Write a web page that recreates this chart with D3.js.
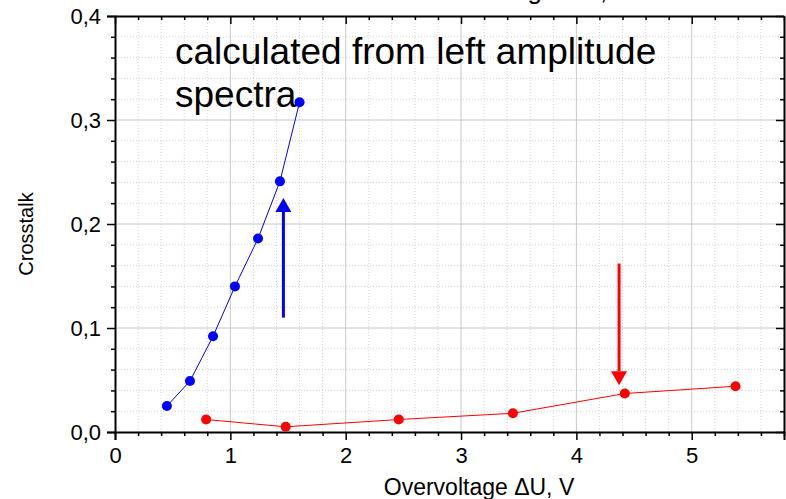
<!DOCTYPE html>
<html lang="en">
<head>
  <meta charset="UTF-8">
  <title>Crosstalk vs overvoltage</title>
  <script src="https://d3js.org/d3.v7.min.js"></script>
  <style>
    body {
      margin: 0;
      background: white;
      font-family: "Liberation Sans", Arial, sans-serif;
    }
  </style>
</head>
<body>
  <div id="chart"></div>

  <script>
    // data
    const blueX = [0.45, 0.65, 0.85, 1.04, 1.24, 1.43, 1.60];
    const blueY = [0.025, 0.049, 0.092, 0.140, 0.186, 0.241, 0.317];
    const redX = [0.79, 1.48, 2.46, 3.45, 4.42, 5.38];
    const redY = [0.012, 0.005, 0.012, 0.018, 0.037, 0.044];

    const xTicks = [0, 1, 2, 3, 4, 5];
    const yTicks = [0, 0.1, 0.2, 0.3, 0.4];

    // arrows: [x, from y, to y]
    const blueArrow = [1.46, 0.110, 0.225];
    const redArrow = [4.37, 0.162, 0.045];

    const width = 786, height = 499;
    const margin = {top: 16, right: 2, bottom: 67, left: 115};

    const svg = d3.select("#chart").append("svg")
        .attr("width", width)
        .attr("height", height);

    const x = d3.scaleLinear()
        .domain([0, 5.8])
        .range([margin.left, width - margin.right]);

    const y = d3.scaleLinear()
        .domain([0, 0.4])
        .range([height - margin.bottom, margin.top]);

    const fmt = d => d3.format(".1f")(d).replace(".", ",");

    const minorX = d3.range(0, 5.81, 0.2).filter(v => Math.abs(v - Math.round(v)) > 1e-6);
    const minorY = d3.range(0, 0.401, 0.02).filter(v => Math.abs(v * 10 - Math.round(v * 10)) > 1e-6);

    // minor grid
    const grid = svg.append("g");
    grid.selectAll(".mgx").data(minorX).join("line")
        .attr("x1", d => x(d)).attr("x2", d => x(d))
        .attr("y1", y(0)).attr("y2", y(0.4))
        .attr("stroke", "#d4d4d4").attr("stroke-dasharray", "1,2");
    grid.selectAll(".mgy").data(minorY).join("line")
        .attr("x1", x(0)).attr("x2", x(5.8))
        .attr("y1", d => y(d)).attr("y2", d => y(d))
        .attr("stroke", "#d4d4d4").attr("stroke-dasharray", "1,2");

    // major grid
    grid.selectAll(".gx").data(xTicks.slice(1)).join("line")
        .attr("x1", d => x(d)).attr("x2", d => x(d))
        .attr("y1", y(0)).attr("y2", y(0.4))
        .attr("stroke", "#c8c8c8");
    grid.selectAll(".gy").data(yTicks.slice(1, -1)).join("line")
        .attr("x1", x(0)).attr("x2", x(5.8))
        .attr("y1", d => y(d)).attr("y2", d => y(d))
        .attr("stroke", "#c8c8c8");

    // axes
    const axisFont = g => g.selectAll("text")
        .attr("font-family", "Liberation Sans, Arial, sans-serif")
        .attr("font-size", 22).attr("fill", "#000");

    svg.append("g")
        .attr("transform", `translate(0,${y(0)})`)
        .call(d3.axisBottom(x).tickValues(xTicks).tickFormat(d3.format("d"))
          .tickSize(8).tickPadding(7))
        .call(axisFont);
    svg.append("g")
        .attr("transform", `translate(0,${y(0)})`)
        .call(d3.axisBottom(x).tickValues(minorX).tickFormat("").tickSize(4))
        .call(g => g.select(".domain").remove());

    svg.append("g")
        .attr("transform", `translate(${x(0)},0)`)
        .call(d3.axisLeft(y).tickValues(yTicks).tickFormat(fmt)
          .tickSize(8).tickPadding(6))
        .call(axisFont);
    svg.append("g")
        .attr("transform", `translate(${x(0)},0)`)
        .call(d3.axisLeft(y).tickValues(minorY).tickFormat("").tickSize(4))
        .call(g => g.select(".domain").remove());

    // mirrored top and right axes, ticks inward
    svg.append("g")
        .attr("transform", `translate(0,${y(0.4)})`)
        .call(d3.axisBottom(x).tickValues(xTicks).tickFormat("").tickSize(8).tickSizeOuter(0));
    svg.append("g")
        .attr("transform", `translate(0,${y(0.4)})`)
        .call(d3.axisBottom(x).tickValues(minorX).tickFormat("").tickSize(4))
        .call(g => g.select(".domain").remove());
    svg.append("g")
        .attr("transform", `translate(${x(5.8)},0)`)
        .call(d3.axisLeft(y).tickValues(yTicks).tickFormat("").tickSize(8).tickSizeOuter(0));
    svg.append("g")
        .attr("transform", `translate(${x(5.8)},0)`)
        .call(d3.axisLeft(y).tickValues(minorY).tickFormat("").tickSize(4))
        .call(g => g.select(".domain").remove());

    svg.selectAll(".domain").attr("stroke-width", 2);
    svg.selectAll(".tick line").attr("stroke-width", 1.5);

    // series
    const series = [
      {xs: blueX, ys: blueY, color: "#0000ff"},
      {xs: redX, ys: redY, color: "#ff0000"}
    ];
    const line = d3.line().x(d => x(d[0])).y(d => y(d[1]));

    series.forEach(s => {
      const pts = s.xs.map((v, i) => [v, s.ys[i]]);
      svg.append("path")
          .datum(pts)
          .attr("d", line)
          .attr("fill", "none")
          .attr("stroke", s.color)
          .attr("stroke-width", 1);
      svg.append("g").selectAll("circle")
          .data(pts)
          .join("circle")
          .attr("cx", d => x(d[0]))
          .attr("cy", d => y(d[1]))
          .attr("r", 5)
          .attr("fill", s.color);
    });

    // arrows
    function arrow(a, color) {
      const [ax, y0, y1] = a;
      const dir = y1 > y0 ? 1 : -1;
      const tipY = y(y1);
      const baseY = tipY + dir * 14;
      svg.append("line")
          .attr("x1", x(ax)).attr("x2", x(ax))
          .attr("y1", y(y0)).attr("y2", baseY)
          .attr("stroke", color).attr("stroke-width", 3);
      svg.append("path")
          .attr("d", `M${x(ax)},${tipY}L${x(ax) - 8},${baseY}L${x(ax) + 8},${baseY}Z`)
          .attr("fill", color);
    }
    arrow(blueArrow, "#0000ff");
    arrow(redArrow, "#ff0000");

    // annotation
    const note = svg.append("text")
        .attr("x", 175)
        .attr("y", 64)
        .attr("font-size", 37)
        .attr("fill", "#000");
    note.append("tspan").attr("x", 175).attr("dy", 0).text("calculated from left amplitude");
    note.append("tspan").attr("x", 175).attr("dy", 43).text("spectra");

    // axis titles
    svg.append("text")
        .attr("x", 479)
        .attr("y", 495)
        .attr("text-anchor", "middle")
        .attr("font-size", 23)
        .text("Overvoltage \u0394U, V");

    svg.append("text")
        .attr("transform", `translate(33,${(y(0) + y(0.4)) / 2 + 10}) rotate(-90)`)
        .attr("text-anchor", "middle")
        .attr("font-size", 20)
        .text("Crosstalk");

    // title above the frame, cut by the picture edge in the original
    svg.append("text")
        .attr("x", 524)
        .attr("y", -1)
        .attr("text-anchor", "middle")
        .attr("font-size", 26)
        .text("Overvoltage \u0394U, V");
  </script>
</body>
</html>
